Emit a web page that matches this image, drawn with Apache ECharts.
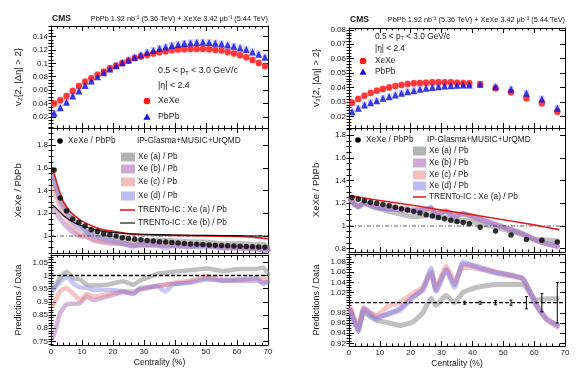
<!DOCTYPE html>
<html><head><meta charset="utf-8">
<script src="https://cdn.jsdelivr.net/npm/echarts@6/dist/echarts.min.js"></script>
<style>html,body{margin:0;padding:0;background:#fff}#c{width:580px;height:380px}</style>
</head><body><div id="c"></div>
<script>
// ---------- DATA ----------
// Left: v2 vs centrality
const cent2 = [1,3,5,7,9,11,13,15,17,19,21,23,25,27,29,31,33,35,37,39,41,43,45,47,49,51,53,55,57,59,61,63,65,67,69];
const v2XeXe = [0.040,0.045,0.051,0.0587,0.066,0.0725,0.0776,0.083,0.0875,0.0925,0.0965,0.100,0.104,0.1075,0.110,0.1125,0.1145,0.1165,0.118,0.1195,0.1205,0.121,0.1215,0.1215,0.1215,0.121,0.120,0.119,0.117,0.1145,0.112,0.109,0.105,0.1005,0.096];
const v2PbPb = [0.0254,0.0337,0.0418,0.051,0.0587,0.0667,0.0736,0.080,0.086,0.0915,0.0965,0.101,0.105,0.109,0.1125,0.116,0.119,0.122,0.1245,0.1265,0.128,0.1295,0.1305,0.131,0.1313,0.131,0.130,0.129,0.1275,0.1255,0.123,0.1205,0.117,0.1135,0.109];
const v2Ratio = [1.58,1.335,1.22,1.15,1.12,1.087,1.055,1.04,1.02,1.01,1.0,0.985,0.978,0.972,0.966,0.96,0.955,0.95,0.946,0.942,0.938,0.934,0.93,0.927,0.924,0.921,0.918,0.916,0.914,0.912,0.91,0.907,0.905,0.902,0.9];
// IP-Glasma model grid (left)
const modelCentL = [0.75,1.8,2.9,5,7.2,9.4,11.5,13.7,18,23.3,26.5,28.7,31.9,34.1,36.8,39.5,44.8,50.2,55.6,61,66.4,68.5,70];
const v2MidA = [1.525,1.42,1.33,1.237,1.145,1.098,1.045,1.02,0.987,0.972,0.944,0.952,0.958,0.964,0.961,0.957,0.949,0.947,0.931,0.933,0.925,0.927,0.905];
const v2MidB = [1.229,1.2,1.153,1.086,1.033,0.999,0.996,0.961,0.941,0.931,0.912,0.92,0.92,0.92,0.918,0.914,0.908,0.913,0.897,0.892,0.884,0.878,0.878];
const v2MidC = [1.42,1.34,1.264,1.163,1.076,1.011,1.007,0.975,0.949,0.934,0.919,0.92,0.92,0.92,0.918,0.918,0.911,0.919,0.901,0.896,0.893,0.887,0.887];
const v2MidD = [1.512,1.41,1.311,1.214,1.122,1.065,1.032,1.002,0.967,0.934,0.91,0.925,0.922,0.92,0.894,0.913,0.904,0.908,0.897,0.896,0.893,0.87,0.878];
const v2PdA = [0.953,0.97,0.99,1.014,0.99,0.985,0.965,0.962,0.965,0.978,0.965,0.98,0.995,1.006,1.01,1.014,1.02,1.027,1.017,1.025,1.025,1.03,1.005];
const v2PdB = [0.768,0.81,0.857,0.89,0.893,0.896,0.92,0.907,0.92,0.937,0.933,0.947,0.955,0.96,0.965,0.968,0.976,0.99,0.98,0.98,0.98,0.975,0.975];
const v2PdC = [0.888,0.915,0.94,0.953,0.93,0.907,0.93,0.92,0.928,0.94,0.94,0.947,0.955,0.96,0.965,0.972,0.98,0.997,0.985,0.985,0.99,0.985,0.985];
const v2PdD = [0.945,0.96,0.975,0.995,0.97,0.955,0.953,0.945,0.945,0.94,0.93,0.953,0.957,0.96,0.94,0.967,0.972,0.985,0.98,0.985,0.99,0.967,0.975];
// TRENTo-IC (left)
const trentoCentL = [0.5,1.5,2.5,4,6,8,10,13,16,20,25,30,40,50,60,65,70];
const trentoA_L = [1.6,1.5,1.41,1.3,1.22,1.17,1.13,1.09,1.06,1.04,1.02,1.01,1.005,1.0,0.995,0.99,0.975];
const trentoB_L = [1.27,1.25,1.22,1.18,1.14,1.11,1.09,1.065,1.045,1.03,1.02,1.015,1.008,1.005,1.003,1.0,0.998];

// Right: v3 vs centrality
const cent3 = [1,3,5,7,9,11,13,15,17,19,21,23,25,27,29,31,33,35,37,39,42.5,47.5,52.5,57.5,62.5,67.5];
const v3XeXe = [0.0295,0.032,0.0343,0.0362,0.0378,0.039,0.040,0.041,0.0417,0.0424,0.0429,0.0431,0.0433,0.0436,0.0436,0.0436,0.0436,0.0433,0.0431,0.0429,0.0422,0.0394,0.0367,0.0325,0.029,0.0232];
const v3PbPb = [0.0232,0.0256,0.0278,0.0295,0.0308,0.0325,0.0336,0.0348,0.036,0.0371,0.0378,0.0388,0.0394,0.040,0.0406,0.041,0.0413,0.0415,0.0417,0.0417,0.0422,0.0406,0.0388,0.036,0.032,0.0256];
const v3Ratio = [1.25,1.235,1.222,1.21,1.2,1.19,1.178,1.165,1.152,1.14,1.128,1.115,1.1,1.088,1.075,1.063,1.05,1.04,1.03,1.02,0.99,0.955,0.92,0.88,0.875,0.86];
const modelCentR = [0.5,3,4.8,8.8,13.1,16.4,20.7,23.9,26.6,28.2,31.5,34.2,36.9,41.2,47.7,56.3,60.6,63.9,67.5];
const v3MidA = [1.231,1.173,1.196,1.159,1.128,1.108,1.082,1.088,1.1,1.075,1.075,1.045,1.051,1.03,0.989,0.922,0.881,0.879,0.867];
const v3MidB = [1.231,1.168,1.208,1.166,1.149,1.146,1.138,1.139,1.153,1.107,1.13,1.083,1.107,1.072,1.012,0.933,0.874,0.846,0.821];
const v3MidC = [1.237,1.173,1.205,1.17,1.169,1.16,1.145,1.143,1.158,1.112,1.136,1.089,1.102,1.068,1.012,0.931,0.873,0.843,0.819];
const v3MidD = [1.225,1.165,1.202,1.162,1.152,1.143,1.136,1.138,1.164,1.104,1.128,1.076,1.112,1.07,1.01,0.932,0.874,0.844,0.822];
const v3PdA = [0.985,0.95,0.98,0.966,0.96,0.955,0.962,0.98,1.009,0.995,1.014,1.0,1.02,1.03,1.036,1.036,1.005,1.008,1.008];
const v3PdB = [0.985,0.946,0.99,0.972,0.978,0.988,1.012,1.026,1.058,1.025,1.066,1.036,1.075,1.072,1.06,1.048,0.997,0.97,0.955];
const v3PdC = [0.99,0.95,0.988,0.975,0.995,1.0,1.018,1.03,1.062,1.03,1.072,1.042,1.07,1.068,1.06,1.046,0.995,0.967,0.952];
const v3PdD = [0.98,0.943,0.985,0.968,0.98,0.985,1.01,1.025,1.068,1.022,1.064,1.03,1.08,1.07,1.058,1.047,0.996,0.968,0.956];
const trentoCentR = [0.5,10,20,30,40,50,60,68];
const trentoA_R = [1.265,1.225,1.185,1.14,1.1,1.055,1.01,0.968];
// data uncertainty on ratio (right bottom)
const errCentR = [37.5,42.5,47.5,52.5,57.5,62.5,67.5];
const errValR = [0.003,0.003,0.004,0.005,0.012,0.018,0.04];

// tick labels
const yLabLT = [0.02,0.04,0.06,0.08,0.1,0.12,0.14];
const yLabLM = [1,1.2,1.4,1.6,1.8];
const yLabLB = [0.75,0.8,0.85,0.9,0.95,1,1.05];
const yLabRT = [0.02,0.03,0.04,0.05,0.06,0.07,0.08];
const yLabRM = [0.8,1,1.2,1.4,1.6,1.8];
const yLabRB = [0.92,0.94,0.96,0.98,1.02,1.04,1.06,1.08];

// ---------- LAYOUT ----------
const FONT = 'Liberation Sans';
const grids = [
  {left:51, top:26, width:217, height:102},
  {left:51, top:128, width:217, height:125},
  {left:51, top:255, width:217, height:90},
  {left:349, top:28, width:216, height:100},
  {left:349, top:128, width:216, height:124},
  {left:349, top:254, width:216, height:92}
];
function steps(a, b, s) { const r = []; for (let v = a; v <= b + 1e-9; v += s) r.push(+v.toFixed(4)); return r; }
const yCfg = [
  {min:0.0034, max:0.1557, labels:yLabLT, minor:steps(0.005,0.155,0.005), name:'v\u2082{2, |\u0394\u03b7| > 2}', size:9.5},
  {min:0.85, max:1.95, labels:yLabLM, minor:steps(0.85,1.95,0.05), name:'XeXe / PbPb', size:9.5},
  {min:0.7367, max:1.0777, labels:yLabLB, minor:steps(0.74,1.075,0.01), name:'Predictions / Data', size:9},
  {min:0.0119, max:0.0813, labels:yLabRT, minor:steps(0.012,0.08,0.002), name:'v\u2083{2, |\u0394\u03b7| > 2}', size:9.5},
  {min:0.771, max:1.863, labels:yLabRM, minor:steps(0.8,1.85,0.05), name:'XeXe / PbPb', size:9.5},
  {min:0.9148, max:1.0959, labels:yLabRB, minor:steps(0.92,1.095,0.005), name:'Predictions / Data', size:9}
];
const xAxes = [], yAxes = [];
grids.forEach((g, i) => {
  const bottomPanel = (i === 2 || i === 5);
  const baseX = {type:'value', gridIndex:i, min:0, max:70, interval:10,
    axisLine:{show:true, onZero:false, lineStyle:{color:'#000', width:1}},
    axisTick:{show:true, inside:true, length:5, lineStyle:{color:'#000'}},
    minorTick:{show:true, splitNumber:5, length:2.5, lineStyle:{color:'#000'}},
    splitLine:{show:false}, minorSplitLine:{show:false}};
  xAxes.push(Object.assign({}, baseX, {position:'bottom',
    axisLabel:{show:bottomPanel, fontSize:8, color:'#222', fontFamily:FONT, margin:3},
    name: bottomPanel ? 'Centrality (%)' : '', nameLocation:'middle', nameGap:13,
    nameTextStyle:{fontSize:8.5, color:'#222', fontFamily:FONT}}));
  xAxes.push(Object.assign({}, baseX, {position:'top', axisLabel:{show:false}}));
  const c = yCfg[i];
  const baseY = {type:'value', gridIndex:i, min:c.min, max:c.max, splitLine:{show:false},
    axisLine:{show:true, onZero:false, lineStyle:{color:'#000', width:1}}};
  yAxes.push(Object.assign({}, baseY, {position:'left',
    axisTick:{show:true, inside:true, length:5, customValues:c.labels, lineStyle:{color:'#000'}},
    axisLabel:{show:true, customValues:c.labels, fontSize:8, color:'#222', fontFamily:FONT, margin:3},
    name:c.name, nameLocation:'middle', nameGap:28, nameTextStyle:{fontSize:c.size, color:'#222', fontFamily:FONT}}));
  yAxes.push(Object.assign({}, baseY, {position:'right',
    axisTick:{show:true, inside:true, length:5, customValues:c.labels, lineStyle:{color:'#000'}},
    axisLabel:{show:false}}));
  yAxes.push(Object.assign({}, baseY, {position:'left', axisLine:{show:false},
    axisTick:{show:true, inside:true, length:2.5, customValues:c.minor, lineStyle:{color:'#000'}},
    axisLabel:{show:false}}));
  yAxes.push(Object.assign({}, baseY, {position:'right', axisLine:{show:false},
    axisTick:{show:true, inside:true, length:2.5, customValues:c.minor, lineStyle:{color:'#000'}},
    axisLabel:{show:false}}));
});

// ---------- SERIES ----------
const zip = (xs, ys) => xs.map((x, i) => [x, ys[i]]);
const ax = g => ({xAxisIndex:2*g, yAxisIndex:4*g});
const series = [];
function addLine(g, xs, ys, color, width, z, type) {
  series.push(Object.assign({type:'line', data:zip(xs, ys), symbol:'none', silent:true, z:z||2,
    lineStyle:{color:color, width:width, type:type||'solid', cap:'round', join:'round'}, smooth:0.15}, ax(g)));
}
function addPoints(g, xs, ys, symbol, size, color, z) {
  series.push(Object.assign({type:'scatter', data:zip(xs, ys), symbol:symbol, symbolSize:size, silent:true, z:z||5,
    itemStyle:{color:color}}, ax(g)));
}
function addUnity(g, color, width, type) {
  series.push(Object.assign({type:'line', data:[[0,1],[70,1]], symbol:'none', silent:true, z:3,
    lineStyle:{color:color, width:width, type:type}}, ax(g)));
}
const cA = 'rgba(150,150,150,0.6)', cB = 'rgba(160,95,170,0.45)', cC = 'rgba(240,140,140,0.5)', cD = 'rgba(130,130,235,0.45)';
// top-left
addPoints(0, cent2, v2XeXe, 'rect', [5,7], 'rgba(255,120,120,0.5)', 3);
addPoints(0, cent2, v2PbPb, 'rect', [5,7], 'rgba(120,120,255,0.5)', 3);
addPoints(0, cent2, v2XeXe, 'circle', 6.5, '#ff1515', 5);
addPoints(0, cent2, v2PbPb, 'triangle', 7, '#1414d8', 6);
// middle-left
addLine(1, modelCentL, v2MidA, cA, 5, 2);
addLine(1, modelCentL, v2MidB, cB, 5, 2);
addLine(1, modelCentL, v2MidC, cC, 5, 2);
addLine(1, modelCentL, v2MidD, cD, 5, 2);
addUnity(1, '#333', 0.8, [4,2,1,2]);
addLine(1, trentoCentL, trentoA_L, '#e02020', 1.6, 4);
addLine(1, trentoCentL, trentoB_L, '#000', 1.1, 4);
addPoints(1, cent2, v2Ratio, 'circle', 5.5, '#000', 6);
// bottom-left
addLine(2, modelCentL, v2PdA, cA, 4.5, 2);
addLine(2, modelCentL, v2PdB, cB, 4.5, 2);
addLine(2, modelCentL, v2PdC, cC, 4.5, 2);
addLine(2, modelCentL, v2PdD, cD, 4.5, 2);
addUnity(2, '#000', 1.4, [4,2]);
// top-right
addPoints(3, cent3, v3XeXe, 'rect', [5,7], 'rgba(255,120,120,0.5)', 3);
addPoints(3, cent3, v3PbPb, 'rect', [5,7], 'rgba(120,120,255,0.5)', 3);
addPoints(3, cent3, v3XeXe, 'circle', 6.5, '#ff1515', 5);
addPoints(3, cent3, v3PbPb, 'triangle', 7, '#1414d8', 6);
// middle-right
addLine(4, modelCentR, v3MidA, cA, 5, 2);
addLine(4, modelCentR, v3MidB, cB, 5, 2);
addLine(4, modelCentR, v3MidC, cC, 5, 2);
addLine(4, modelCentR, v3MidD, cD, 5, 2);
addUnity(4, '#333', 0.8, [4,2,1,2]);
addLine(4, trentoCentR, trentoA_R, '#e02020', 1.6, 4);
addPoints(4, cent3, v3Ratio, 'circle', 5.5, '#000', 6);
// bottom-right
addLine(5, modelCentR, v3PdA, cA, 5, 2);
addLine(5, modelCentR, v3PdB, cB, 5, 2);
addLine(5, modelCentR, v3PdC, cC, 5, 2);
addLine(5, modelCentR, v3PdD, cD, 5, 2);
addUnity(5, '#000', 1.3, [4,2]);
series.push(Object.assign({type:'custom', silent:true, z:6,
  data: errCentR.map((c, i) => [c, 1, errValR[i]]),
  renderItem: (p, api) => {
    const x = api.value(0), e = api.value(2);
    const a = api.coord([x, 1 - e]), b = api.coord([x, 1 + e]);
    return {type:'group', children:[
      {type:'line', shape:{x1:a[0], y1:a[1], x2:b[0], y2:b[1]}, style:{stroke:'#000', lineWidth:1}},
      {type:'line', shape:{x1:a[0]-1.5, y1:a[1], x2:a[0]+1.5, y2:a[1]}, style:{stroke:'#000', lineWidth:1}},
      {type:'line', shape:{x1:b[0]-1.5, y1:b[1], x2:b[0]+1.5, y2:b[1]}, style:{stroke:'#000', lineWidth:1}}
    ]};
  }}, ax(5)));

// ---------- ANNOTATIONS ----------
const gr = [];
function T(x, y, text, size, extra) {
  gr.push({type:'text', x:x, y:y, silent:true, z:100,
    style:Object.assign({text:text, fontSize:size, fontFamily:FONT, fill:'#1a1a1a', verticalAlign:'middle', align:'left'}, extra||{})});
}
function ptText(x, y, size) {
  gr.push({type:'text', x:x, y:y, silent:true, z:100, style:{
    text:'0.5 < p{s|T} < 3.0 GeV/c', fontSize:size, fontFamily:FONT, fill:'#1a1a1a', verticalAlign:'middle', align:'left',
    rich:{s:{fontSize:size*0.65, fontFamily:FONT, fill:'#1a1a1a', padding:[size*0.45,0,0,0]}}}});
}
function box(x, y, w, h, fill) { gr.push({type:'rect', silent:true, z:100, shape:{x:x, y:y - h/2, width:w, height:h}, style:{fill:fill}}); }
function seg(x1, x2, y, color, w) { gr.push({type:'line', silent:true, z:100, shape:{x1:x1, y1:y, x2:x2, y2:y}, style:{stroke:color, lineWidth:w}}); }
function dot(x, y, r, color) { gr.push({type:'circle', silent:true, z:100, shape:{cx:x, cy:y, r:r}, style:{fill:color}}); }
function tri(x, y, s, color) { gr.push({type:'polygon', silent:true, z:100, shape:{points:[[x, y - s], [x - s, y + s*0.75], [x + s, y + s*0.75]]}, style:{fill:color}}); }
const header = 'PbPb 1.92 nb\u207b\u00b9 (5.36 TeV) + XeXe 3.42 \u03bcb\u207b\u00b9 (5.44 TeV)';
// headers
T(52, 19, 'CMS', 8.5, {fontWeight:'bold'});
T(268, 19, header, 7.3, {align:'right'});
T(350, 20, 'CMS', 8.5, {fontWeight:'bold'});
T(565, 20, header, 7.3, {align:'right'});
// top-left texts
ptText(158, 71, 8.8);
T(158, 86, '|\u03b7| < 2.4', 8.8);
dot(147, 101, 3.3, '#ff1515'); T(158, 101, 'XeXe', 8.8);
tri(147, 117, 3.6, '#1414d8'); T(158, 117, 'PbPb', 8.8);
// top-right texts
ptText(375, 37, 8.3);
T(375, 49, '|\u03b7| < 2.4', 8.3);
dot(363, 61, 3.3, '#ff1515'); T(375, 61, 'XeXe', 8.3);
tri(363, 72, 3.6, '#1414d8'); T(375, 72, 'PbPb', 8.3);
// middle-left legend
dot(60, 141, 2.8, '#000'); T(68, 141, 'XeXe / PbPb', 8.3);
T(137, 141, 'IP-Glasma+MUSIC+UrQMD', 8.3);
box(121, 157, 14, 9, '#b4b4b4'); T(138, 157, 'Xe (a) / Pb', 8.3);
box(121, 169, 14, 9, '#d2a8d6'); T(138, 169, 'Xe (b) / Pb', 8.3);
box(121, 182, 14, 9, '#f3bebe'); T(138, 182, 'Xe (c) / Pb', 8.3);
box(121, 196, 14, 9, '#bcbcf0'); T(138, 196, 'Xe (d) / Pb', 8.3);
seg(120, 135, 210, '#e02020', 1.6); T(138, 210, 'TRENTo-IC : Xe (a) / Pb', 8.3);
seg(120, 135, 223, '#000', 1.1); T(138, 223, 'TRENTo-IC : Xe (b) / Pb', 8.3);
// middle-right legend
dot(358, 140, 2.8, '#000'); T(366, 140, 'XeXe / PbPb', 8.3);
T(427, 140, 'IP-Glasma+MUSIC+UrQMD', 8.3);
box(413, 151, 13, 9, '#b4b4b4'); T(429, 151, 'Xe (a) / Pb', 8.3);
box(413, 163, 13, 9, '#d2a8d6'); T(429, 163, 'Xe (b) / Pb', 8.3);
box(413, 175, 13, 9, '#f3bebe'); T(429, 175, 'Xe (c) / Pb', 8.3);
box(413, 186, 13, 9, '#bcbcf0'); T(429, 186, 'Xe (d) / Pb', 8.3);
seg(413, 426, 197, '#e02020', 1.6); T(429, 197, 'TRENTo-IC : Xe (a) / Pb', 8.3);

const chart = echarts.init(document.getElementById('c'), null, {renderer:'canvas'});
chart.setOption({
  animation:false,
  backgroundColor:'#fff',
  textStyle:{fontFamily:FONT},
  grid:grids,
  xAxis:xAxes,
  yAxis:yAxes,
  series:series,
  graphic:gr
});
</script>
</body></html>
